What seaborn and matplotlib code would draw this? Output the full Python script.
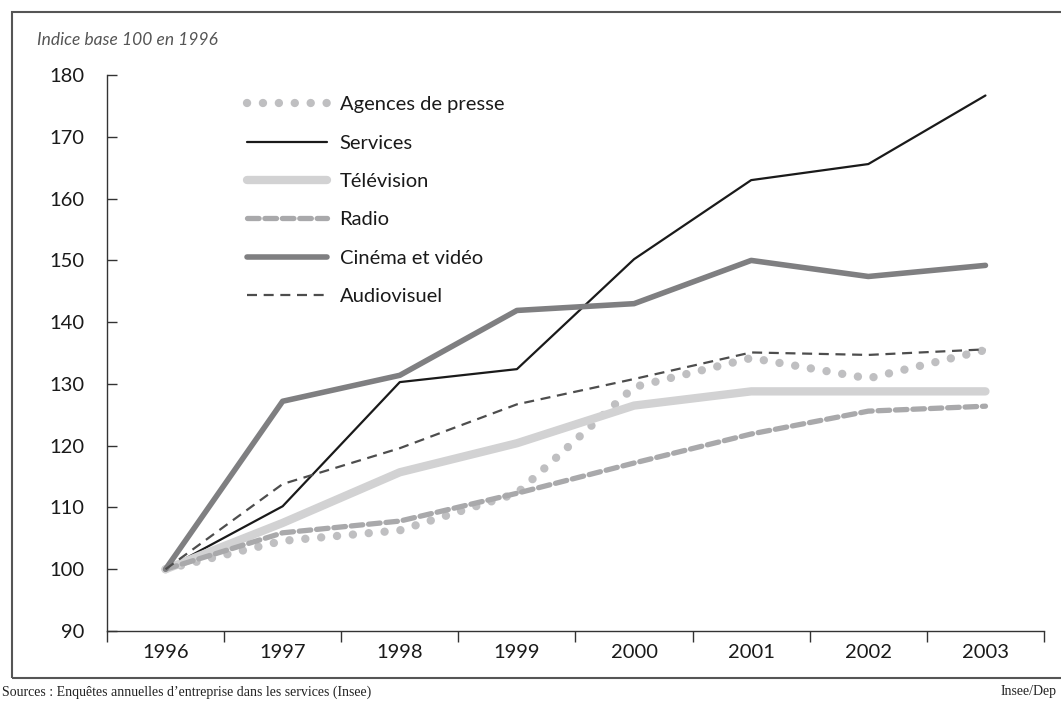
import matplotlib
matplotlib.use("Agg")
import matplotlib.pyplot as plt
from matplotlib.patches import Rectangle
from matplotlib.ticker import FixedLocator
import pandas as pd
import seaborn as sns

# ── Data ──────────────────────────────────────────────────
years = ["1996", "1997", "1998", "1999", "2000", "2001", "2002", "2003"]
agences = [100, 104.6, 106.3, 112.3, 129.5, 134.2, 130.9, 135.5]
services = [100, 110.2, 130.3, 132.4, 150.2, 163.0, 165.6, 176.7]
television = [100, 107.5, 115.7, 120.4, 126.5, 128.8, 128.8, 128.8]
radio = [100, 105.9, 107.8, 112.3, 117.2, 121.9, 125.6, 126.4]
cinema = [100, 127.2, 131.4, 141.9, 143.0, 150.0, 147.4, 149.2]
audiovisuel = [100, 113.8, 119.6, 126.7, 130.8, 135.1, 134.7, 135.6]

series = [
    ("Agences de presse", agences, dict(color="#bfbfc1", lw=6.0, ls=(0, (0.01, 1.9)), dash_capstyle="round")),
    ("Services", services, dict(color="#1a1a1a", lw=1.6, ls="-")),
    ("Télévision", television, dict(color="#d2d2d3", lw=6.0, ls="-", solid_capstyle="round")),
    ("Radio", radio, dict(color="#a9a9ab", lw=3.8, ls=(0, (2.2, 1.1)), dash_capstyle="round")),
    ("Cinéma et vidéo", cinema, dict(color="#7f7f81", lw=4.0, ls="-", solid_capstyle="round")),
    ("Audiovisuel", audiovisuel, dict(color="#4d4d4d", lw=1.6, ls=(0, (4.5, 3.0)))),
]

sns.set_theme(style="white")
plt.rcParams["font.family"] = ["Lato", "DejaVu Sans"]

fig = plt.figure(figsize=(10.61, 7.02), dpi=100)
ax = fig.add_axes([0.1008, 0.1011, 0.8832, 0.7919])

x = list(range(len(years)))
for name, vals, st in series:
    df = pd.DataFrame({"x": x, "y": vals})
    sns.lineplot(data=df, x="x", y="y", ax=ax, label=name, color=st["color"],
                 linewidth=st["lw"], linestyle=st["ls"],
                 **{k: v for k, v in st.items() if k not in ("color", "lw", "ls")})

# ── Axes ──────────────────────────────────────────────────
ax.set_xlim(-0.5, len(years) - 0.5)
ax.set_ylim(90, 180)
ax.set_xlabel("")
ax.set_ylabel("")
ax.set_xticks(x)
ax.set_xticklabels(years, fontsize=14.5)
ax.xaxis.set_minor_locator(FixedLocator([i - 0.5 for i in range(len(years) + 1)]))
ax.tick_params(axis="x", which="major", length=0, pad=9)
ax.tick_params(axis="x", which="minor", length=8, width=1, color="#333333", direction="out")
ax.set_yticks(range(90, 181, 10))
ax.tick_params(axis="y", labelsize=14.5, length=7, width=1, color="#333333",
               direction="in", pad=16)
for lab in ax.get_xticklabels() + ax.get_yticklabels():
    lab.set_color("#1a1a1a")
ax.tick_params(axis="both", which="both", bottom=True, left=True)
for s in ["top", "right"]:
    ax.spines[s].set_visible(False)
for s in ["left", "bottom"]:
    ax.spines[s].set_color("#333333")
    ax.spines[s].set_linewidth(1.0)

leg = ax.legend(loc="upper left", bbox_to_anchor=(0.13, 0.995), frameon=False,
                fontsize=14.5, handlelength=4.0, handletextpad=0.6, labelspacing=1.06)
for t in leg.get_texts():
    t.set_color("#1a1a1a")

# ── Frame & texts ─────────────────────────────────────────
fig.patches.append(Rectangle((12 / 1061, 1 - 678 / 702), 1.0, (678 - 12) / 702,
                             transform=fig.transFigure, fill=False,
                             edgecolor="#555555", linewidth=1.5))
fig.text(37 / 1061, 1 - 40 / 702, "Indice base 100 en 1996", fontsize=12.5,
         style="italic", color="#555555", va="center", ha="left")
fig.text(2 / 1061, 1 - 692 / 702, "Sources : Enquêtes annuelles d’entreprise dans les services (Insee)",
         fontsize=10, family=["Liberation Serif", "DejaVu Serif"], va="center", ha="left", color="#222222")
fig.text(1057 / 1061, 1 - 692 / 702, "Insee/Dep", fontsize=10,
         family=["Liberation Serif", "DejaVu Serif"], va="center", ha="right", color="#222222")

fig.savefig("out.png", dpi=100)
